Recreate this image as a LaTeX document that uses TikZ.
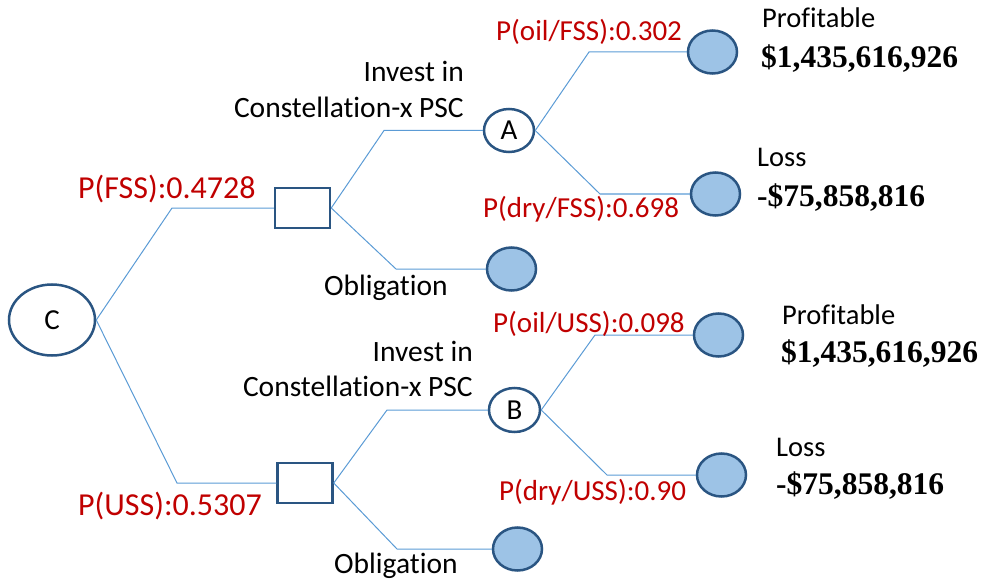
\documentclass[tikz,border=0pt]{standalone}
\usepackage{fontspec}
\setmainfont{Carlito}[Ligatures=NoCommon]
\newfontfamily\amountfont{Liberation Serif}
\usetikzlibrary{shapes.geometric}
\definecolor{linkblue}{HTML}{5B9BD5}
\definecolor{nodeborder}{HTML}{2A5582}
\definecolor{leaffill}{HTML}{9DC3E6}
\definecolor{probred}{HTML}{C00000}
\tikzset{
  link/.style={draw=linkblue, line width=1pt},
  chance/.style={ellipse, draw=nodeborder, line width=2.5pt, fill=white, inner sep=0pt, font=\fontsize{29}{34}\selectfont},
  decision/.style={rectangle, draw=nodeborder, line width=2.5pt, fill=white, minimum width=55pt, minimum height=40pt, inner sep=0pt},
  leaf/.style={ellipse, draw=nodeborder, line width=2.5pt, fill=leaffill, minimum width=49pt, minimum height=43pt, inner sep=0pt},
  prob/.style={text=probred, inner sep=0pt, anchor=base west, font=\fontsize{29}{34}\selectfont},
  bigprob/.style={text=probred, inner sep=0pt, anchor=base west, font=\fontsize{32}{36}\selectfont},
  lbl/.style={text=black, inner sep=0pt, font=\fontsize{29.5}{34}\selectfont},
  outlbl/.style={text=black, inner sep=0pt, anchor=base west, font=\fontsize{28.5}{34}\selectfont},
  amount/.style={text=black, inner sep=0pt, anchor=base west, font=\amountfont\bfseries\fontsize{31.5}{36}\selectfont}
}
\begin{document}
\begin{tikzpicture}[x=1pt,y=-1pt]
\useasboundingbox (0,0) rectangle (983,583);
\node[chance, minimum width=86pt, minimum height=71pt] (C) at (52,320) {\raisebox{-3pt}{C}};
\node[decision] (S1) at (302.5,208) {};
\node[decision] (S2) at (305,483) {};
\node[chance, minimum width=50pt, minimum height=43pt] (A) at (509,130.5) {\raisebox{-2pt}{A}};
\node[chance, minimum width=51pt, minimum height=44pt] (B) at (514.5,410) {\raisebox{-2pt}{B}};
\node[leaf] (L1) at (712.5,52) {};
\node[leaf] (L2) at (715.5,194) {};
\node[leaf] (L3) at (511.5,269) {};
\node[leaf] (L4) at (718.5,335) {};
\node[leaf] (L5) at (721.5,475) {};
\node[leaf] (L6) at (517.5,549) {};

\coordinate (c1) at (172,208);
\coordinate (c2) at (177,483);
\coordinate (s1a) at (384,130.5);
\coordinate (s1b) at (396,269);
\coordinate (s2a) at (387,410);
\coordinate (s2b) at (397,549);
\coordinate (a1) at (589,52);
\coordinate (a2) at (600,194);
\coordinate (b1) at (595,335);
\coordinate (b2) at (607,475);

\draw[link] (C.east) -- (c1) -- (S1.west);
\draw[link] (C.east) -- (c2) -- (S2.west);
\draw[link] (S1.east) -- (s1a) -- (A.west);
\draw[link] (S1.east) -- (s1b) -- (L3.west);
\draw[link] (S2.east) -- (s2a) -- (B.west);
\draw[link] (S2.east) -- (s2b) -- (L6.west);
\draw[link] (A.east) -- (a1) -- (L1.west);
\draw[link] (A.east) -- (a2) -- (L2.west);
\draw[link] (B.east) -- (b1) -- (L4.west);
\draw[link] (B.east) -- (b2) -- (L5.west);

% probabilities
\node[bigprob] (pfss) at (78,198) {P(FSS):0.4728};
\node[bigprob] (puss) at (78,515) {P(USS):0.5307};
\node[prob] (poilf) at (496,41) {P(oil/FSS):0.302};
\node[prob] (pdryf) at (483,218) {P(dry/FSS):0.698};
\node[prob] (poilu) at (493,332) {P(oil/USS):0.098};
\node[prob] (pdryu) at (499,500) {P(dry/USS):0.90};

% branch labels
\node[lbl, anchor=base east] (inv1a) at (464,82) {Invest in};
\node[lbl, anchor=base east] (inv1b) at (464,118) {Constellation-x PSC};
\node[lbl, anchor=base east] (inv2a) at (473,361) {Invest in};
\node[lbl, anchor=base east] (inv2b) at (473,396) {Constellation-x PSC};
\node[lbl, anchor=base west] (obl1) at (324,295) {Obligation};
\node[lbl, anchor=base west] (obl2) at (334,573) {Obligation};

% outcomes
\node[outlbl] (prof1) at (762,28) {Profitable};
\node[amount] (am1) at (761,68) {\$1,435,616,926};
\node[outlbl] (loss1) at (757,167) {Loss};
\node[amount] (am2) at (757,207) {-\$75,858,816};
\node[outlbl] (prof2) at (782,324) {Profitable};
\node[amount] (am3) at (781,362) {\$1,435,616,926};
\node[outlbl] (loss2) at (776,456) {Loss};
\node[amount] (am4) at (776,494) {-\$75,858,816};
\end{tikzpicture}
\end{document}
